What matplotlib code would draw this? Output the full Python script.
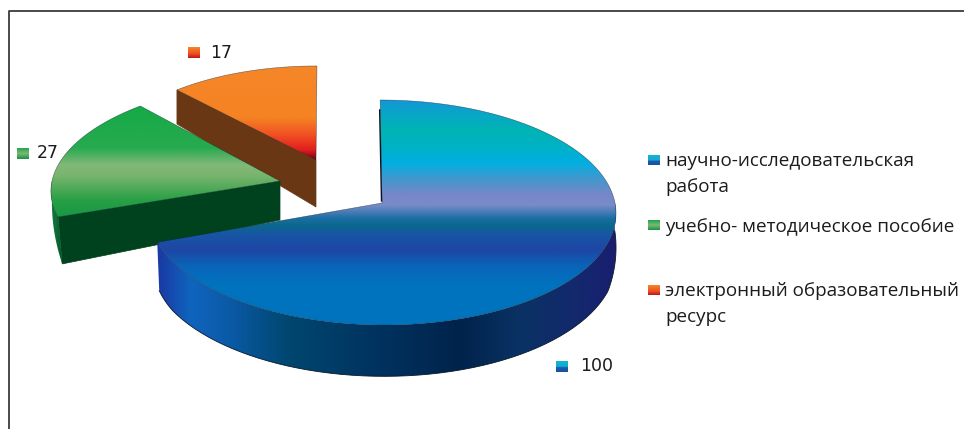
import matplotlib
matplotlib.use("Agg")
import matplotlib.pyplot as plt
from matplotlib.patches import Polygon
import numpy as np

categories = ["научно-исследовательская\nработа", "учебно- методическое пособие", "электронный образовательный\nресурс"]
values = [100, 27, 17]

plt.rcParams["font.family"] = ["Open Sans", "DejaVu Sans"]

# apex x, apex y, radius x, radius y, perspective, shear, depth at apex, depth change to rim
geom = [
    (382, 203, 233, 111.7, 0.0844, -2, 47, 0),
    (280, 181, 228, 104, 0.03, 15.3, 39, 7.5),
    (316, 160, 213, 97.8, 0.04, 1, 47, -12),
]

blue_top = [(100, (20, 150, 215)), (112, (10, 165, 200)), (130, (0, 180, 180)), (145, (0, 178, 195)),
            (162, (0, 175, 225)), (180, (70, 150, 205)), (195, (120, 135, 200)), (205, (120, 140, 200)),
            (218, (30, 110, 165)), (225, (10, 105, 140)), (235, (25, 85, 165)), (250, (30, 70, 165)),
            (266, (10, 100, 185)), (285, (0, 115, 190)), (330, (0, 115, 190))]
green_top = [(106, (20, 170, 70)), (148, (40, 170, 80)), (165, (130, 185, 120)), (176, (120, 180, 110)),
             (200, (40, 160, 70)), (220, (20, 150, 70))]
orange_top = [(66, (245, 135, 40)), (118, (245, 130, 35)), (135, (240, 80, 35)), (150, (225, 30, 30)),
              (160, (110, 0, 15))]
blue_side = [(140, (25, 60, 165)), (160, (25, 60, 165)), (190, (15, 100, 190)), (230, (10, 90, 165)),
             (290, (0, 70, 110)), (380, (0, 50, 95)), (460, (0, 35, 75)), (520, (10, 50, 100)),
             (580, (20, 40, 110)), (620, (25, 30, 110))]
green_side = [(48, (20, 130, 65)), (56, (15, 110, 55)), (66, (0, 70, 32))]
tops = [blue_top, green_top, orange_top]
sides = [blue_side, green_side, None]
cut_colors = [None, "#00411e", "#693714"]

swatch_tops = [[(0, (20, 180, 215)), (0.5, (20, 170, 210)), (0.6, (30, 90, 170)), (1, (25, 80, 165))],
               [(0, (30, 165, 75)), (0.5, (125, 185, 115)), (1, (25, 145, 70))],
               [(0, (245, 135, 40)), (0.6, (240, 80, 35)), (1, (190, 20, 25))]]


def ramp(stops):
    pos = np.array([s[0] for s in stops], dtype=float)
    cols = np.array([s[1] for s in stops], dtype=float) / 255
    t = np.linspace(pos[0], pos[-1], 300)
    img = np.stack([np.interp(t, pos, cols[:, i]) for i in range(3)], axis=1)
    return pos[0], pos[-1], img


def fill_vertical(ax, pts, stops, z):
    y0, y1, img = ramp(stops)
    poly = Polygon(pts, closed=True, fc="none", ec="none", transform=ax.transData)
    ax.add_patch(poly)
    x0, x1 = pts[:, 0].min() - 2, pts[:, 0].max() + 2
    im = ax.imshow(img[:, None, :], extent=(x0, x1, y1, y0), aspect="auto", zorder=z, interpolation="bilinear")
    im.set_clip_path(poly)


def fill_horizontal(ax, pts, stops, z):
    x0, x1, img = ramp(stops)
    poly = Polygon(pts, closed=True, fc="none", ec="none", transform=ax.transData)
    ax.add_patch(poly)
    y0, y1 = pts[:, 1].min() - 2, pts[:, 1].max() + 2
    im = ax.imshow(img[None, :, :], extent=(x0, x1, y1, y0), aspect="auto", zorder=z, interpolation="bilinear")
    im.set_clip_path(poly)


def project(theta, r, g):
    ax_, ay, rx, ry, k, s, d0, d1 = g
    u = r * np.cos(np.radians(theta))
    v = r * np.sin(np.radians(theta))
    w = 1 + k * v
    x = ax_ + (rx * u + s * v) / w
    y = ay - ry * v / w
    d = (d0 + d1 * r) / w
    return x, y, d


fig, ax = plt.subplots(figsize=(9.64, 4.29), dpi=100)
ax.set_position([0, 0, 1, 1])

# the slice angles come from the pie itself
wedges, _ = ax.pie(values, startangle=90, counterclock=False)
angles = [(w.theta1, w.theta2) for w in wedges]
for w in wedges:
    w.set_visible(False)

# orange first, blue last so that it covers the green slice
for i in [2, 1, 0]:
    g = geom[i]
    th1, th2 = angles[i]
    z = 3 + (2 - i) * 3
    arc = np.linspace(th1, th2, 200)
    ax_x, ax_y, ax_d = project(0.0, 0.0, g)

    # cut face
    if cut_colors[i] is not None:
        ex, ey, ed = project(th2, 1.0, g)
        shift = 4 if i == 1 else 0
        ax.add_patch(Polygon([(ax_x, ax_y), (ex, ey), (ex + shift, ey + ed), (ax_x, ax_y + ax_d)], closed=True,
                             fc=cut_colors[i], ec=cut_colors[i], lw=0.5, zorder=z))

    # outer rim, only the part facing the viewer
    if sides[i] is not None:
        front = arc[np.sin(np.radians(arc)) <= 0.02]
        x, y, d = project(front, 1.0, g)
        if i == 1:
            # green rim runs out towards the back of the slice
            t = np.linspace(0, 1, len(front))
            lower = np.column_stack([x + 4 * t, y + d * (0.2 + 0.8 * t)])
        else:
            # blue rim narrows near its right end
            grow = np.interp(front, [-20, 0], [1.0, 0.62])
            shift = np.interp(front, [-160, -150], [2, 0])
            lower = np.column_stack([x + shift, y + d * grow])
        rim = np.vstack([np.column_stack([x, y]), lower[::-1]])
        fill_horizontal(ax, rim, sides[i], z)
        if i == 0:
            ax.plot(lower[:, 0], lower[:, 1], color="#0b1a2a", lw=0.6, zorder=z + 1)

    # top face
    x, y, _ = project(arc, 1.0, g)
    top = np.vstack([[ax_x, ax_y], np.column_stack([x, y])])
    fill_vertical(ax, top, tops[i], z + 1)
    ax.add_patch(Polygon(top, closed=True, fc="none", ec="#10202a", lw=0.4, alpha=0.6, zorder=z + 2))
    if i == 0:
        # dark edge where the first slice starts
        sx, sy, _ = project(th2, 1.0, g)
        ax.plot([sx - 0.5, ax_x - 0.5], [sy + 10, ax_y - 2], color="#0a1420", lw=1.0, zorder=z + 2)


def swatch(x, y, w, h, stops):
    _, _, img = ramp(stops)
    ax.imshow(img[:, None, :], extent=(x, x + w, y + h, y), aspect="auto", zorder=20)


text_col = "#1c1c1c"
label_pos = [(580, 366), (37, 153), (210, 53)]
swatch_pos = [(556, 361), (17, 148), (188, 47)]
for val, lp, sp, st in zip(values, label_pos, swatch_pos, swatch_tops):
    swatch(sp[0], sp[1], 12, 11, st)
    ax.text(lp[0], lp[1], str(val), fontsize=12.5, family="DejaVu Sans", color=text_col, va="center", ha="left", zorder=20)

legend_y = [174, 227, 304]
legend_sw = [155, 220, 285]
for cat, ly, sy, st in zip(categories, legend_y, legend_sw, swatch_tops):
    swatch(648, sy, 12, 10, st)
    ax.text(665, ly, cat, fontsize=13.6, color=text_col, va="center", ha="left", linespacing=1.52, zorder=20)

# picture frame
ax.plot([9, 9, 964], [429, 11, 11], color="#3c3c3c", lw=1.3, zorder=30)

ax.set_xlim(0, 964)
ax.set_ylim(429, 0)
ax.set_aspect("auto")
ax.axis("off")
fig.savefig("out.png", dpi=100, facecolor="white")
